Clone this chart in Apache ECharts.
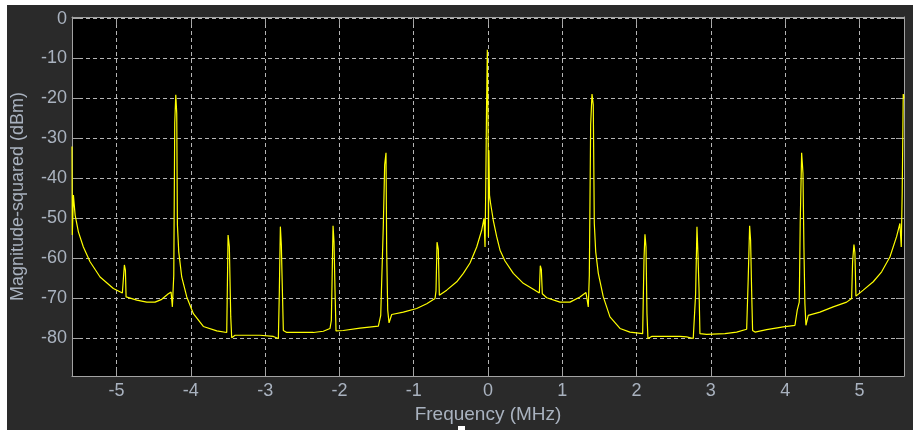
<!DOCTYPE html>
<html>
<head>
<meta charset="utf-8">
<script src="https://cdn.jsdelivr.net/npm/echarts@6/dist/echarts.min.js"></script>
<style>
  html, body { margin: 0; padding: 0; background: #fff; }
  #wrap { position: relative; width: 913px; height: 430px; }
  #main { position: absolute; left: 7px; top: 5px; width: 906px; height: 425px; background: #2a2a2a; }
  #mark { position: absolute; left: 458px; top: 426px; width: 7px; height: 4px; background: #fff; }
</style>
</head>
<body>
<div id="wrap"><div id="main"></div><div id="mark"></div></div>
<script>
// spectrum trace
const freqMHz = [
  -5.600, -5.596, -5.581, -5.558, -5.514, -5.447, -5.357, -5.222, -5.043, -4.922,
  -4.905, -4.895, -4.881, -4.872, -4.728, -4.594, -4.482, -4.392, -4.303, -4.266,
  -4.249, -4.230, -4.217, -4.203, -4.190, -4.181, -4.163, -4.123, -4.055, -3.966,
  -3.832, -3.651, -3.517, -3.499, -3.482, -3.463, -3.450, -3.405, -3.069, -2.890,
  -2.822, -2.809, -2.795, -2.782, -2.768, -2.755, -2.709, -2.351, -2.217, -2.127,
  -2.109, -2.100, -2.086, -2.073, -2.059, -2.046, -1.948, -1.723, -1.476, -1.444,
  -1.409, -1.391, -1.373, -1.364, -1.350, -1.332, -1.296, -1.140, -0.960, -0.825,
  -0.713, -0.700, -0.686, -0.669, -0.655, -0.556, -0.421, -0.332, -0.242, -0.152,
  -0.085, -0.054, -0.040, -0.031, -0.020, -0.009, 0.002, 0.006, 0.012, 0.020,
  0.035, 0.071, 0.117, 0.162, 0.229, 0.341, 0.475, 0.610, 0.691, 0.704,
  0.718, 0.731, 0.790, 0.969, 1.104, 1.238, 1.319, 1.350, 1.364, 1.382,
  1.400, 1.417, 1.431, 1.450, 1.485, 1.552, 1.642, 1.777, 1.911, 2.082,
  2.100, 2.113, 2.127, 2.140, 2.153, 2.203, 2.584, 2.674, 2.763, 2.795,
  2.813, 2.826, 2.840, 2.853, 2.943, 3.190, 3.347, 3.482, 3.503, 3.522,
  3.535, 3.549, 3.562, 3.594, 3.751, 3.975, 4.132, 4.163, 4.190, 4.203,
  4.222, 4.240, 4.253, 4.266, 4.280, 4.311, 4.468, 4.647, 4.828, 4.895,
  4.908, 4.926, 4.939, 4.953, 5.051, 5.186, 5.299, 5.410, 5.500, 5.545,
  5.563, 5.576, 5.590, 5.600
];
const levelDbm = [
  -32.0, -54.2, -44.2, -49.2, -53.4, -57.2, -60.9, -64.7, -67.6, -68.7,
  -68.4, -61.7, -63.0, -69.7, -70.5, -71.0, -71.0, -70.3, -68.9, -68.5,
  -72.2, -64.3, -26.2, -19.1, -23.7, -51.7, -58.4, -64.7, -69.7, -73.9,
  -77.1, -78.2, -78.6, -54.2, -57.1, -74.7, -79.9, -79.3, -79.3, -79.6,
  -80.1, -68.4, -52.1, -56.7, -68.0, -78.1, -78.6, -78.6, -78.3, -77.6,
  -75.6, -66.8, -51.9, -55.9, -68.4, -78.2, -78.1, -77.5, -77.0, -74.3,
  -51.7, -36.6, -33.6, -58.0, -73.0, -76.2, -74.1, -73.5, -72.6, -71.4,
  -70.1, -68.2, -56.0, -57.8, -69.3, -68.0, -65.9, -63.8, -61.2, -57.2,
  -53.0, -50.0, -57.2, -43.4, -23.0, -7.8, -30.0, -54.6, -33.0, -44.2,
  -46.3, -50.5, -54.6, -58.0, -60.7, -63.8, -66.3, -67.8, -68.7, -61.9,
  -62.8, -68.9, -69.9, -71.0, -71.0, -69.7, -68.6, -72.2, -64.3, -26.6,
  -18.9, -21.6, -51.3, -58.4, -63.8, -69.7, -74.7, -77.6, -78.5, -78.9,
  -60.2, -54.0, -57.2, -73.9, -80.1, -79.6, -79.6, -79.7, -80.1, -68.9,
  -52.1, -58.8, -67.2, -78.9, -79.1, -78.9, -78.5, -77.8, -65.1, -51.9,
  -55.5, -68.2, -78.1, -78.5, -77.9, -77.2, -76.8, -73.0, -71.0, -51.3,
  -33.6, -38.7, -57.6, -71.4, -76.8, -74.3, -73.5, -72.2, -71.0, -70.1,
  -60.9, -56.6, -58.6, -69.5, -68.0, -65.9, -63.4, -59.7, -54.6, -51.3,
  -57.2, -43.3, -18.9, -20.0
];
const xTicks = [-5, -4, -3, -2, -1, 0, 1, 2, 3, 4, 5];
const yTicks = [-80, -70, -60, -50, -40, -30, -20, -10, 0];

const font = "'Liberation Sans', Arial, sans-serif";
const frameColor = '#a3a3a3';
const textColor = '#a9b2bf';

const trace = freqMHz.map((f, i) => [f, levelDbm[i]]);

const tickStyle = { inside: true, length: 8, lineStyle: { color: frameColor } };
const gridLines = { show: true, lineStyle: { color: '#b5b5b5', type: [4, 3], width: 1 } };

const xBase = (pos) => ({
  type: 'value',
  position: pos,
  min: -5.6,
  max: 5.6,
  splitNumber: 11,
  axisLine: { show: true, onZero: false, lineStyle: { color: frameColor, width: 1 } },
  axisTick: Object.assign({ customValues: xTicks }, tickStyle)
});
const yBase = (pos) => ({
  type: 'value',
  position: pos,
  min: -89.5,
  max: 0.4,
  splitNumber: 9,
  axisLine: { show: true, onZero: false, lineStyle: { color: frameColor, width: 1 } },
  axisTick: Object.assign({ customValues: yTicks }, tickStyle)
});

const option = {
  animation: false,
  grid: {
    left: 65, right: 9, top: 12, bottom: 54,
    outerBoundsMode: 'none',
    containLabel: false,
    show: true, backgroundColor: '#000', borderWidth: 0
  },
  xAxis: [
    Object.assign(xBase('bottom'), {
      name: 'Frequency (MHz)',
      nameLocation: 'middle',
      nameGap: 25,
      nameTextStyle: { color: textColor, fontSize: 19, fontFamily: font },
      axisLabel: { customValues: xTicks, color: textColor, fontSize: 18, fontFamily: font, margin: 6 },
      splitLine: gridLines
    }),
    Object.assign(xBase('top'), { axisLabel: { show: false }, splitLine: { show: false } })
  ],
  yAxis: [
    Object.assign(yBase('left'), {
      name: 'Magnitude-squared (dBm)',
      nameLocation: 'middle',
      nameGap: 45,
      nameTextStyle: { color: textColor, fontSize: 18, fontFamily: font },
      axisLabel: { customValues: yTicks, color: textColor, fontSize: 18, fontFamily: font, margin: 5 },
      splitLine: gridLines
    }),
    Object.assign(yBase('right'), { axisLabel: { show: false }, splitLine: { show: false } })
  ],
  series: [{
    type: 'line',
    data: trace,
    showSymbol: false,
    sampling: null,
    lineStyle: { color: '#ffff00', width: 1.2 },
    itemStyle: { color: '#ffff00' },
    z: 5
  }]
};

echarts.init(document.getElementById('main')).setOption(option);
</script>
</body>
</html>
